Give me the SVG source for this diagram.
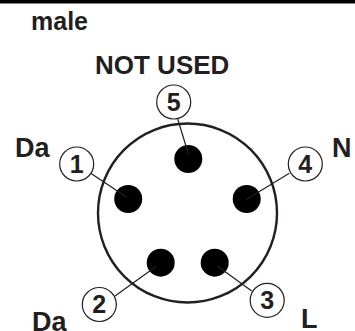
<svg xmlns="http://www.w3.org/2000/svg" width="355" height="331" viewBox="0 0 355 331">
<style>
text{font-family:"Liberation Sans",Arial,sans-serif;font-weight:700;fill:#231f20}
.l{font-size:27px}
.n{font-size:25px;text-anchor:middle}
.c{fill:#fff;stroke:#231f20;stroke-width:1.2}
.p{fill:#000}
.w{stroke:#231f20;stroke-width:1.2;fill:none}
</style>
<rect width="355" height="331" fill="#fff"/>
<rect x="0" y="0" width="355" height="3.500" fill="#000"/>
<g id="labels">
<text x="31" y="29.500" style="font-size:25px">male</text>
<text x="95" y="74" style="font-size:26px">NOT USED</text>
<text x="15" y="157" class="l">Da</text>
<text x="332" y="157" class="l">N</text>
<text x="32" y="330.500" class="l">Da</text>
<text x="301" y="328" class="l">L</text>
</g>
<g id="shell"><circle cx="187.500" cy="213" r="89.500" fill="none" stroke="#231f20" stroke-width="2.400"/></g>
<g id="pin5"><circle class="p" cx="188.300" cy="159" r="14"/><circle class="c" cx="173.700" cy="102" r="17"/><text class="n" x="173.700" y="110.500">5</text></g>
<g id="pin1"><circle class="p" cx="128.200" cy="199" r="14"/><circle class="c" cx="76.700" cy="164" r="17"/><text class="n" x="76.700" y="172.500">1</text></g>
<g id="pin4"><circle class="p" cx="246.700" cy="199" r="14"/><circle class="c" cx="305.300" cy="164" r="17"/><text class="n" x="305.300" y="172.500">4</text></g>
<g id="pin2"><circle class="p" cx="160.700" cy="262.700" r="14"/><circle class="c" cx="99.300" cy="304.500" r="17"/><text class="n" x="99.300" y="313">2</text></g>
<g id="pin3"><circle class="p" cx="214.700" cy="262.700" r="14"/><circle class="c" cx="267.200" cy="300.300" r="17"/><text class="n" x="267.200" y="308.800">3</text></g>
<g id="connectors">
<line class="w" x1="177.700" y1="119" x2="188.700" y2="155"/>
<line class="w" x1="90.700" y1="173.300" x2="126.700" y2="197.300"/>
<line class="w" x1="289.300" y1="173.300" x2="246" y2="199.700"/>
<line class="w" x1="115" y1="296" x2="156.700" y2="266"/>
<line class="w" x1="251.700" y1="291" x2="217.300" y2="266"/>
</g>
</svg>
